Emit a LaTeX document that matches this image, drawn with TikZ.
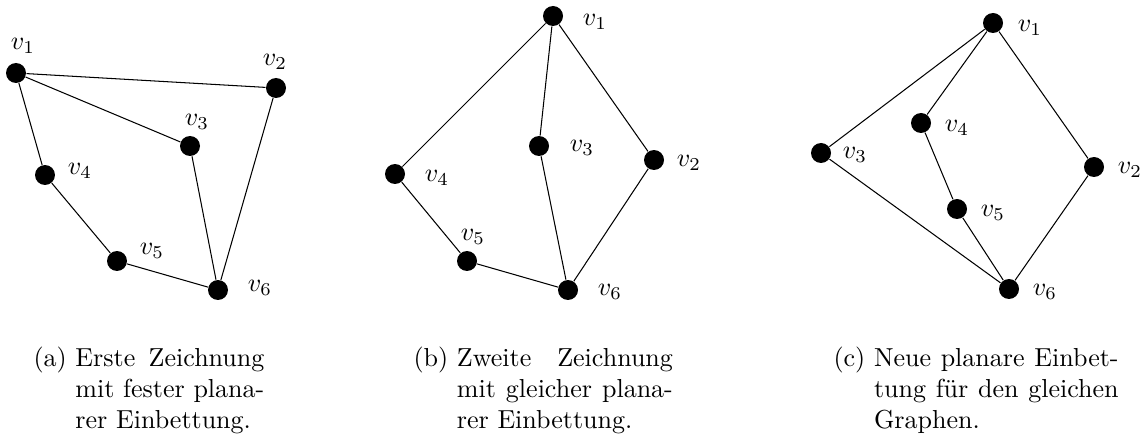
\documentclass[tikz,border=0pt]{standalone}
\usepackage{amsmath,amssymb}
\usepackage{tikz}
\tikzset{
  vtx/.style={circle, fill=black, inner sep=0pt, minimum size=0.27cm},
  capt/.style={inner sep=0pt, anchor=base west}
}
\begin{document}
\begin{tikzpicture}[x=0.0135cm, y=-0.0135cm]
\useasboundingbox (0,0) rectangle (1148,436);
\node[vtx] (a1) at (16,73) {};
\node[vtx] (a2) at (276,88) {};
\node[vtx] (a3) at (190,146) {};
\node[vtx] (a4) at (45,175) {};
\node[vtx] (a5) at (117,261) {};
\node[vtx] (a6) at (218,290) {};
\node (la1) at (23,46) {$v_1$};
\node (la2) at (275,62) {$v_2$};
\node (la3) at (197,122) {$v_3$};
\node (la4) at (80,171) {$v_4$};
\node (la5) at (152,251) {$v_5$};
\node (la6) at (260,288) {$v_6$};
\draw (a1) -- (a2);
\draw (a1) -- (a3);
\draw (a1) -- (a4);
\draw (a3) -- (a6);
\draw (a2) -- (a6);
\draw (a4) -- (a5);
\draw (a5) -- (a6);
\node[vtx] (b1) at (553,16) {};
\node[vtx] (b2) at (654,160) {};
\node[vtx] (b3) at (539,146) {};
\node[vtx] (b4) at (395,174) {};
\node[vtx] (b5) at (467,261) {};
\node[vtx] (b6) at (568,290) {};
\node (lb1) at (595,22) {$v_1$};
\node (lb2) at (689,163) {$v_2$};
\node (lb3) at (582,148) {$v_3$};
\node (lb4) at (437,178) {$v_4$};
\node (lb5) at (473,237) {$v_5$};
\node (lb6) at (610,292) {$v_6$};
\draw (b1) -- (b4);
\draw (b1) -- (b3);
\draw (b1) -- (b2);
\draw (b3) -- (b6);
\draw (b2) -- (b6);
\draw (b4) -- (b5);
\draw (b5) -- (b6);
\node[vtx] (c1) at (993,23) {};
\node[vtx] (c2) at (1094,167) {};
\node[vtx] (c3) at (821,153) {};
\node[vtx] (c4) at (921,123) {};
\node[vtx] (c5) at (957,209) {};
\node[vtx] (c6) at (1009,289) {};
\node (lc1) at (1030,28) {$v_1$};
\node (lc2) at (1130,170) {$v_2$};
\node (lc3) at (855,155) {$v_3$};
\node (lc4) at (957,128) {$v_4$};
\node (lc5) at (993,213) {$v_5$};
\node (lc6) at (1045,292) {$v_6$};
\draw (c1) -- (c3);
\draw (c1) -- (c4);
\draw (c1) -- (c2);
\draw (c4) -- (c5);
\draw (c5) -- (c6);
\draw (c3) -- (c6);
\draw (c2) -- (c6);
\node[capt] (capa) at (33,366) {\begin{tabular}[t]{@{}l@{\ }p{72.6pt}@{}}(a)&Erste Zeichnung\linebreak mit fester plana-\linebreak rer Einbettung.\end{tabular}};
\node[capt] (capb) at (413,366) {\begin{tabular}[t]{@{}l@{\ }p{83pt}@{}}(b)&Zweite Zeichnung\linebreak mit gleicher plana-\linebreak rer Einbettung.\end{tabular}};
\node[capt] (capc) at (833,366) {\begin{tabular}[t]{@{}l@{\ }p{94pt}@{}}(c)&Neue planare Einbet-\linebreak tung f\"ur den gleichen\linebreak Graphen.\end{tabular}};
\end{tikzpicture}
\end{document}
